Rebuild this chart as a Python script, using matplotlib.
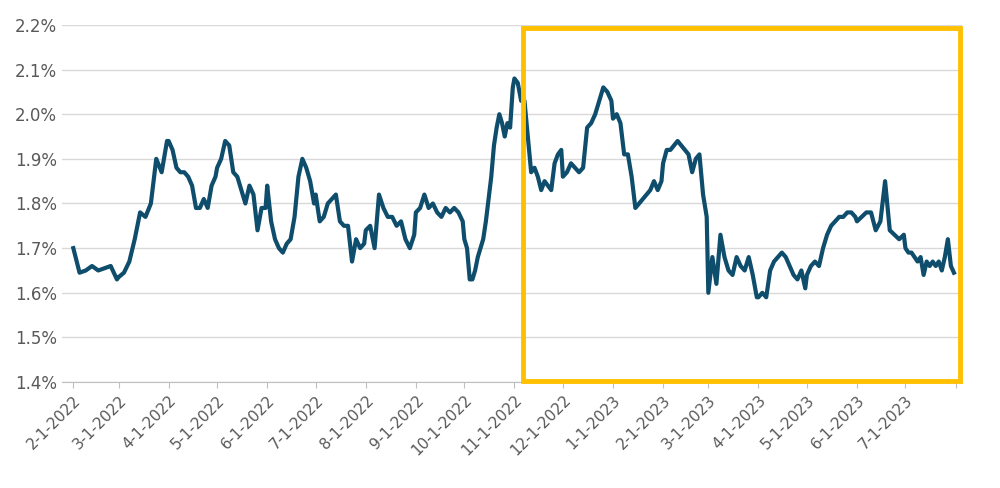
import numpy as np
import pandas as pd
import matplotlib.pyplot as plt
import matplotlib.patches as patches
import matplotlib.dates as mdates
from matplotlib.ticker import FuncFormatter

# yield (%), listed month by month
month_starts = pd.date_range("2022-02-01", "2023-07-01", freq="MS")
feb22 = [1.70, 1.645, 1.65, 1.66, 1.65, 1.655, 1.66, 1.63]
mar22 = [1.635, 1.645, 1.67, 1.72, 1.78, 1.77, 1.80, 1.90, 1.87, 1.94]
apr22 = [1.94, 1.92, 1.88, 1.87, 1.87, 1.86, 1.84, 1.79, 1.79, 1.81, 1.79, 1.84, 1.86]
may22 = [1.88, 1.90, 1.94, 1.93, 1.87, 1.86, 1.83, 1.80, 1.84, 1.82, 1.74, 1.79, 1.79]
jun22 = [1.84, 1.76, 1.72, 1.70, 1.69, 1.71, 1.72, 1.77, 1.86, 1.90, 1.88, 1.85, 1.80]
jul22 = [1.82, 1.76, 1.77, 1.80, 1.81, 1.82, 1.76, 1.75, 1.75, 1.67, 1.72, 1.70, 1.71]
aug22 = [1.74, 1.75, 1.70, 1.82, 1.79, 1.77, 1.77, 1.75, 1.76, 1.72, 1.70, 1.73]
sep22 = [1.78, 1.79, 1.82, 1.79, 1.80, 1.78, 1.77, 1.79, 1.78, 1.79, 1.78, 1.76]
oct22 = [1.72, 1.70, 1.63, 1.63, 1.65, 1.68, 1.70, 1.72, 1.76, 1.81, 1.86, 1.93,
         1.97, 2.00, 1.98, 1.95, 1.98, 1.97, 2.06]
nov22 = [2.08, 2.07, 2.03, 2.03, 1.95, 1.87, 1.88, 1.86, 1.83, 1.85, 1.84, 1.83,
         1.89, 1.91, 1.92]
dec22 = [1.86, 1.87, 1.89, 1.88, 1.87, 1.88, 1.97, 1.98, 2.00, 2.03, 2.06, 2.05, 2.03]
jan23 = [1.99, 2.00, 1.98, 1.91, 1.91, 1.86, 1.79, 1.80, 1.81, 1.82, 1.83, 1.85,
         1.83, 1.85]
feb23 = [1.89, 1.92, 1.92, 1.93, 1.94, 1.93, 1.92, 1.91, 1.87, 1.90, 1.91, 1.82, 1.77]
mar23 = [1.60, 1.68, 1.62, 1.73, 1.68, 1.65, 1.64, 1.68, 1.66, 1.65, 1.68, 1.64, 1.59]
apr23 = [1.59, 1.60, 1.59, 1.65, 1.67, 1.68, 1.69, 1.68, 1.66, 1.64, 1.63, 1.65, 1.61]
may23 = [1.64, 1.66, 1.67, 1.66, 1.70, 1.73, 1.75, 1.76, 1.77, 1.77, 1.78, 1.78, 1.77]
jun23 = [1.76, 1.77, 1.78, 1.78, 1.74, 1.76, 1.85, 1.74, 1.73, 1.72, 1.73]
jul23 = [1.70, 1.69, 1.69, 1.68, 1.67, 1.68, 1.64, 1.67, 1.66, 1.67, 1.66, 1.67,
         1.65, 1.68, 1.72, 1.66, 1.645]
months = [feb22, mar22, apr22, may22, jun22, jul22, aug22, sep22, oct22, nov22,
          dec22, jan23, feb23, mar23, apr23, may23, jun23, jul23]

dates, values = [], []
for start, vals in zip(month_starts, months):
    end = start + pd.offsets.MonthBegin(1) - pd.Timedelta(days=1)
    dates.extend(pd.date_range(start, end, periods=len(vals)))
    values.extend(vals)

fig = plt.figure(figsize=(10, 4.88), dpi=100)
ax = fig.add_axes([0.062, 0.217, 0.9, 0.732])
plt.rcParams["font.family"] = "Open Sans"

ax.plot(dates, values, color="#0e4d6b", linewidth=3, solid_joinstyle="round", zorder=3)

ax.set_ylim(1.4, 2.2)
ax.set_yticks(np.arange(1.4, 2.21, 0.1))
ax.yaxis.set_major_formatter(FuncFormatter(lambda v, _: f"{v:.1f}%"))
ax.grid(axis="y", color="#d9d9d9", linewidth=1)
ax.set_axisbelow(True)

ticks = pd.date_range("2022-02-01", "2023-08-01", freq="MS")
ax.set_xticks(ticks)
ax.set_xticklabels([f"{d.month}-1-{d.year}" for d in ticks[:-1]] + [""],
                   rotation=45, ha="right", rotation_mode="anchor")
ax.set_xlim(pd.Timestamp("2022-01-25"), pd.Timestamp("2023-08-05"))
ax.tick_params(axis="x", length=4, color="#bfbfbf", labelsize=11, labelcolor="#595959")
ax.tick_params(axis="y", length=0, labelsize=12, labelcolor="#595959")
for side in ["top", "right", "left"]:
    ax.spines[side].set_visible(False)
ax.spines["bottom"].set_color("#bfbfbf")

# highlight box
x0 = mdates.date2num(pd.Timestamp("2022-11-06"))
x1 = mdates.date2num(pd.Timestamp("2023-08-04"))
ax.add_patch(patches.Rectangle((x0, 1.402), x1 - x0, 2.193 - 1.402, fill=False,
                               edgecolor="#ffc000", linewidth=3.5, zorder=4,
                               clip_on=False))

fig.savefig("out.png", dpi=100)
